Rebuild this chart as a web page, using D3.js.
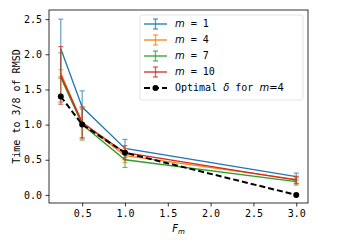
<!DOCTYPE html>
<html>
<head>
<meta charset="utf-8">
<script src="https://cdn.jsdelivr.net/npm/d3@7"></script>
<style>
  body { margin: 0; background: #fff; }
  text { font-family: "DejaVu Sans Mono", monospace; font-size: 10px; fill: #000; }
  .mi { font-family: "DejaVu Sans", sans-serif; font-style: italic; }
  .ms { font-family: "DejaVu Sans", sans-serif; }
</style>
</head>
<body>
<svg id="chart" width="359" height="245"></svg>
<script>
const fm = [0.25, 0.5, 1.0, 3.0];
const labels = ["1", "4", "7", "10"];
const colors = ["#1f77b4", "#ff7f0e", "#2ca02c", "#d62728"];
const means = [
  [2.08, 1.25, 0.66, 0.26],
  [1.73, 1.03, 0.56, 0.22],
  [1.67, 1.00, 0.50, 0.19],
  [1.70, 1.03, 0.60, 0.21]
];
const errs = [
  [0.42, 0.23, 0.13, 0.05],
  [0.05, 0.22, 0.10, 0.05],
  [0.35, 0.22, 0.11, 0.05],
  [0.41, 0.22, 0.10, 0.05]
];
const optimal = [1.40, 1.00, 0.60, 0.00];
const xTicks = [0.5, 1.0, 1.5, 2.0, 2.5, 3.0];
const yTicks = [0.0, 0.5, 1.0, 1.5, 2.0, 2.5];

const svg = d3.select("#chart");
const m = { left: 49, top: 10, right: 308, bottom: 203 };

const x = d3.scaleLinear().domain([0.1125, 3.1375]).range([m.left, m.right]);
const y = d3.scaleLinear().domain([-0.115, 2.63]).range([m.bottom, m.top]);

// axes
const xAxis = svg.append("g")
  .attr("transform", `translate(0,${m.bottom})`)
  .call(d3.axisBottom(x).tickValues(xTicks).tickFormat(d3.format(".1f")).tickSize(3.5).tickPadding(3.5));
const yAxis = svg.append("g")
  .attr("transform", `translate(${m.left},0)`)
  .call(d3.axisLeft(y).tickValues(yTicks).tickFormat(d3.format(".1f")).tickSize(3.5).tickPadding(3.5));
[xAxis, yAxis].forEach((a) => {
  a.select(".domain").remove();
  a.selectAll("text").style("font-family", "DejaVu Sans Mono").style("font-size", "10px").attr("fill", "#000");
  a.selectAll("line").attr("stroke", "#000").attr("stroke-width", 0.8);
});

svg.append("rect")
  .attr("x", m.left).attr("y", m.top)
  .attr("width", m.right - m.left).attr("height", m.bottom - m.top)
  .attr("fill", "none").attr("stroke", "#000").attr("stroke-width", 0.8);

// labels
svg.append("text")
  .attr("transform", `translate(17,${(m.top + m.bottom) / 2}) rotate(-90)`)
  .attr("text-anchor", "middle").attr("dominant-baseline", "middle")
  .text("Time to 3/8 of RMSD");
const xl = svg.append("text")
  .attr("x", (m.left + m.right) / 2).attr("y", 232)
  .attr("text-anchor", "middle");
xl.append("tspan").attr("class", "mi").text("F");
xl.append("tspan").attr("class", "mi").attr("font-size", "7px").attr("dy", 2).text("m");

const line = d3.line().x((d) => x(d[0])).y((d) => y(d[1]));
const plot = svg.append("g");

means.forEach((vals, i) => {
  const pts = fm.map((f, j) => [f, vals[j], errs[i][j]]);
  const g = plot.append("g");
  g.append("path")
    .attr("d", line(pts))
    .attr("fill", "none").attr("stroke", colors[i]).attr("stroke-width", 1.3);
  const eb = g.selectAll(null).data(pts).enter().append("g")
    .attr("stroke", colors[i]).attr("stroke-width", 1.1).attr("opacity", 0.75);
  eb.append("line")
    .attr("x1", (d) => x(d[0])).attr("x2", (d) => x(d[0]))
    .attr("y1", (d) => y(d[1] - d[2])).attr("y2", (d) => y(d[1] + d[2]));
  [-1, 1].forEach((s) => {
    eb.append("line")
      .attr("x1", (d) => x(d[0]) - 2.5).attr("x2", (d) => x(d[0]) + 2.5)
      .attr("y1", (d) => y(d[1] + s * d[2])).attr("y2", (d) => y(d[1] + s * d[2]));
  });
});

const opt = fm.map((f, j) => [f, optimal[j]]);
plot.append("path")
  .attr("d", line(opt))
  .attr("fill", "none").attr("stroke", "#000").attr("stroke-width", 2)
  .attr("stroke-dasharray", "6,3");
plot.selectAll(null).data(opt).enter().append("circle")
  .attr("cx", (d) => x(d[0])).attr("cy", (d) => y(d[1])).attr("r", 3)
  .attr("fill", "#000");

// legend
const leg = svg.append("g");
leg.append("rect")
  .attr("x", 140).attr("y", 15).attr("width", 163).attr("height", 85).attr("rx", 2)
  .attr("fill", "#fff").attr("fill-opacity", 0.8).attr("stroke", "#ddd").attr("stroke-width", 0.8);

labels.forEach((lab, i) => {
  const cy = 24 + i * 16;
  const g = leg.append("g").attr("stroke", colors[i]).attr("stroke-width", 1.3);
  g.append("line").attr("x1", 144).attr("x2", 167).attr("y1", cy).attr("y2", cy);
  g.append("line").attr("x1", 155.5).attr("x2", 155.5).attr("y1", cy - 5).attr("y2", cy + 5).attr("opacity", 0.75);
  g.append("line").attr("x1", 153).attr("x2", 158).attr("y1", cy - 5).attr("y2", cy - 5).attr("opacity", 0.75);
  g.append("line").attr("x1", 153).attr("x2", 158).attr("y1", cy + 5).attr("y2", cy + 5).attr("opacity", 0.75);
  const t = leg.append("text").attr("x", 175).attr("y", cy).attr("dominant-baseline", "middle");
  t.append("tspan").attr("class", "mi").text("m");
  t.append("tspan").text(" = " + lab);
});

const oy = 24 + 4 * 16;
leg.append("line").attr("x1", 144).attr("x2", 167).attr("y1", oy).attr("y2", oy)
  .attr("stroke", "#000").attr("stroke-width", 2).attr("stroke-dasharray", "6,3");
leg.append("circle").attr("cx", 155.5).attr("cy", oy).attr("r", 3).attr("fill", "#000");
const ot = leg.append("text").attr("x", 175).attr("y", oy).attr("dominant-baseline", "middle");
ot.append("tspan").text("Optimal ");
ot.append("tspan").attr("class", "mi").text("δ");
ot.append("tspan").text(" for ");
ot.append("tspan").attr("class", "mi").text("m");
ot.append("tspan").attr("class", "ms").text("=");
ot.append("tspan").attr("class", "ms").text("4");
</script>
</body>
</html>
